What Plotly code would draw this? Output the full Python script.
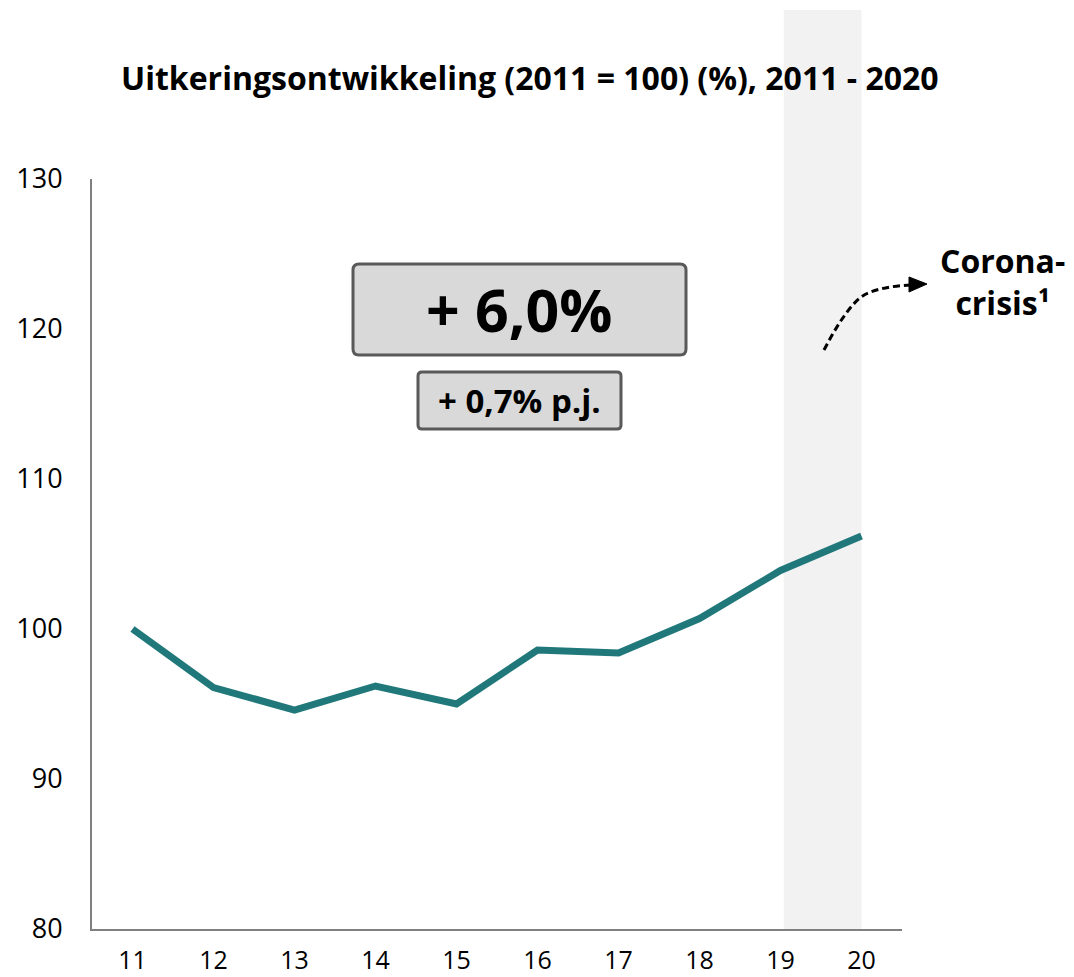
import plotly.graph_objects as go

# ---- data ----
years = ["11", "12", "13", "14", "15", "16", "17", "18", "19", "20"]
index_values = [100.0, 96.1, 94.6, 96.2, 95.0, 98.6, 98.4, 100.7, 103.9, 106.2]
y_ticks = [80, 90, 100, 110, 120, 130]
title_text = "Uitkeringsontwikkeling (2011 = 100) (%), 2011 - 2020"
total_label = "+ 6,0%"
annual_label = "+ 0,7% p.j."
corona_label = "Corona-<br>crisis¹"

# ---- layout geometry (page pixels; body has 8px default margin) ----
OFF = 8
W_FIG, H_FIG = 1074 - OFF, 977 - OFF
PL, PR, PT, PB = 92, 902, 179, 929   # plot area in page pixels
L, T = PL - OFF, PT - OFF
R = W_FIG - (PR - OFF)
B = H_FIG - (PB - OFF)
PW = PR - PL
PH = PB - PT
FONT = "Open Sans"
TEAL = "#21787A"


def px(x):
    return (x - PL) / PW


def py(y):
    return (PB - y) / PH


def rounded_rect(x0, y0, x1, y1, r=6):
    rx = r / PW
    ry = r / PH
    X0, X1 = px(x0), px(x1)
    Y0, Y1 = py(y0), py(y1)
    return (f"M {X0+rx},{Y0} L {X1-rx},{Y0} Q {X1},{Y0} {X1},{Y0-ry} "
            f"L {X1},{Y1+ry} Q {X1},{Y1} {X1-rx},{Y1} "
            f"L {X0+rx},{Y1} Q {X0},{Y1} {X0},{Y1+ry} "
            f"L {X0},{Y0-ry} Q {X0},{Y0} {X0+rx},{Y0} Z")


fig = go.Figure()
fig.add_trace(go.Scatter(
    x=years, y=index_values, mode="lines",
    line=dict(color=TEAL, width=7),
    hoverinfo="skip", showlegend=False,
))

shapes = []
shapes.append(dict(type="rect", xref="x", yref="paper",
                   x0=8.04, x1=9.0, y0=0, y1=py(10),
                   fillcolor="#F2F2F2", line=dict(width=0), layer="below"))
shapes.append(dict(type="path", xref="paper", yref="paper",
                   path=rounded_rect(353, 264, 686, 355, 6),
                   fillcolor="#D9D9D9", line=dict(color="#595959", width=3)))
shapes.append(dict(type="path", xref="paper", yref="paper",
                   path=rounded_rect(418, 372, 621, 429, 4),
                   fillcolor="#D9D9D9", line=dict(color="#595959", width=3)))
shapes.append(dict(type="path", xref="paper", yref="paper",
                   path=(f"M {px(824)},{py(350)} Q {px(850)},{py(300)} "
                         f"{px(868)},{py(293)} Q {px(885)},{py(286)} {px(912)},{py(285)}"),
                   line=dict(color="black", width=3, dash="7px,4px")))
shapes.append(dict(type="path", xref="paper", yref="paper",
                   path=(f"M {px(909)},{py(277)} L {px(927)},{py(284)} "
                         f"L {px(909)},{py(292)} Z"),
                   fillcolor="black", line=dict(color="black", width=1)))


def ann(text, x, y, size):
    return dict(text=f"<b>{text}</b>", xref="paper", yref="paper",
                x=px(x), y=py(y), showarrow=False, xanchor="center", yanchor="middle",
                align="center",
                font=dict(family=FONT, size=size, color="black"))


annotations = [
    ann(title_text, 530, 78, 32),
    ann(total_label, 519, 309, 59),
    ann(annual_label, 519, 400, 33),
    ann(corona_label, 1002, 281, 32),
]

fig.update_layout(
    width=W_FIG, height=H_FIG,
    margin=dict(l=L, r=R, t=T, b=B, pad=0, autoexpand=False),
    paper_bgcolor="white", plot_bgcolor="rgba(0,0,0,0)",
    shapes=shapes, annotations=annotations,
    font=dict(family=FONT, color="black"),
)
fig.update_xaxes(
    type="category", range=[-0.5, 9.5], automargin=False,
    showline=True, linecolor="#808080", linewidth=2,
    showgrid=False, zeroline=False, ticks="",
    tickfont=dict(family=FONT, size=25, color="black"),
    ticklabelstandoff=8,
)
fig.update_yaxes(
    range=[80, 130], tickvals=y_ticks, automargin=False,
    showline=True, linecolor="#808080", linewidth=2,
    showgrid=False, zeroline=False, ticks="",
    tickfont=dict(family=FONT, size=27, color="black"),
    ticklabelstandoff=22,
)

fig.write_html("out.html")
